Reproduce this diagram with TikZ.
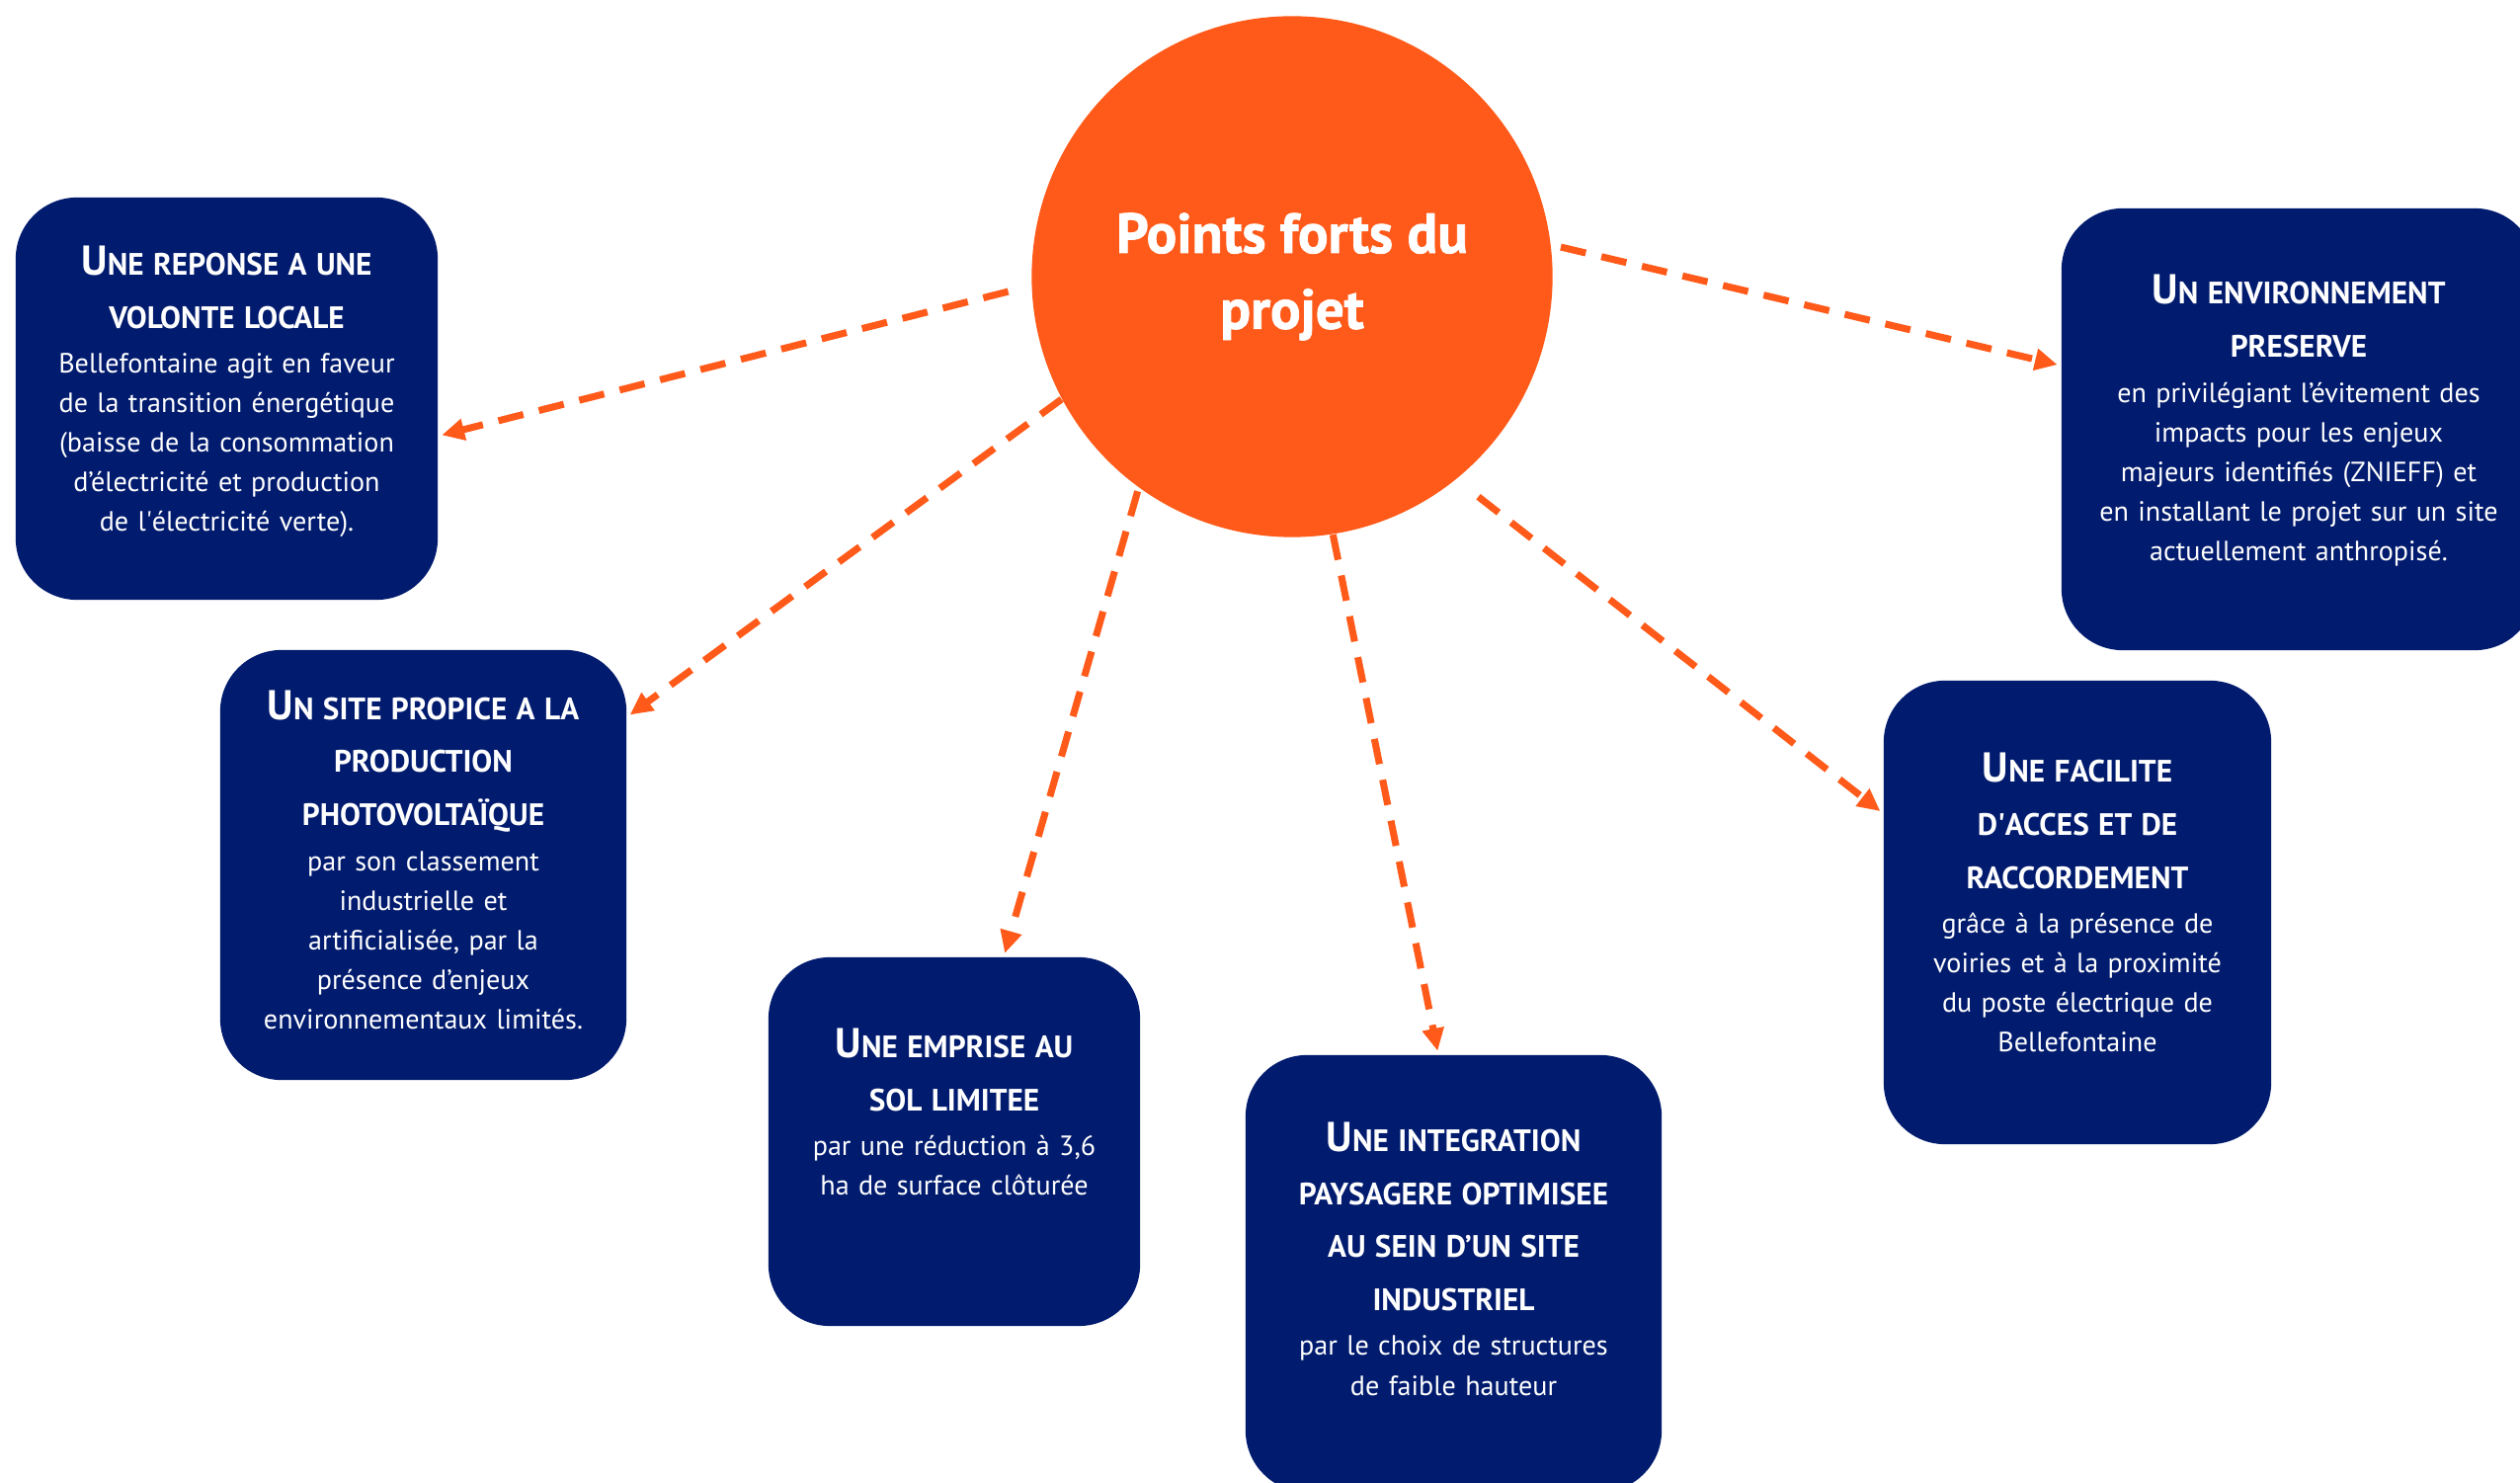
\documentclass[tikz,border=0pt]{standalone}
\usepackage{fontspec}
\setmainfont{PT Sans}
\newfontfamily\titlefont{PT Sans}[BoldFeatures={FakeBold=1.4}]
\usetikzlibrary{arrows.meta}

\definecolor{navy}{HTML}{011B6E}
\definecolor{flame}{HTML}{FF5A19}

% large initial of the small-caps headings
\newcommand{\lead}[1]{{\fontsize{12}{12}\selectfont #1}}
\newcommand{\cardtitle}[1]{{\bfseries\fontsize{8.9}{15.3}\selectfont #1\par}\vspace{1.5pt}}

\begin{document}
\begin{tikzpicture}[
    x=0.01cm, y=-0.01cm,
    font=\fontsize{8}{11.4}\selectfont,
    hub/.style={circle,fill=flame,text=white,minimum size=5.27cm,inner sep=0pt,
        align=center,font=\titlefont\fontsize{16.2}{21.8}\selectfont\bfseries},
    card/.style={fill=navy,text=white,rounded corners=0.62cm,align=center,
        inner sep=0pt},
    link/.style={draw=flame,line width=2pt,dash pattern=on 7.4pt off 4.6pt,
        -{Triangle[length=6.5pt,width=6pt]},shorten >=1pt}
]

\clip (0,0) rectangle (2551,1501);

\node[hub] (hub) at (1308,280) {Points forts du\\projet};

% Left side
\node[card,text width=4.27cm,minimum height=4.07cm] (volonte) at (229.5,403.5)
{
\cardtitle{\lead{U}NE REPONSE A UNE\\VOLONTE LOCALE}
Bellefontaine agit en faveur\\
de la transition énergétique\\
(baisse de la consommation\\
d’électricité et production\\
de l\textquotesingle électricité verte).\par
\vspace*{4pt}
};

\node[card,text width=4.11cm,minimum height=4.35cm] (propice) at (428.5,875.5)
{
\cardtitle{\lead{U}N SITE PROPICE A LA\\PRODUCTION\\PHOTOVOLTAÏQUE}
par son classement\\
industrielle et\\
artificialisée, par la\\
présence d’enjeux\\
environnementaux limités.\par
\vspace*{3pt}
};

% Bottom
\node[card,text width=3.76cm,minimum height=3.73cm] (emprise) at (966,1155.5)
{
\cardtitle{\lead{U}NE EMPRISE AU\\SOL LIMITEE}
par une réduction à 3,6\\
ha de surface clôturée\par
\vspace*{17pt}
};

\node[card,text width=4.21cm,minimum height=4.42cm] (paysage) at (1471.5,1289)
{
\cardtitle{\lead{U}NE INTEGRATION\\PAYSAGERE OPTIMISEE\\AU SEIN D’UN SITE\\INDUSTRIEL}
par le choix de structures\\
de faible hauteur\par
\vspace*{8.5pt}
};

% Right side
\node[card,text width=3.92cm,minimum height=4.69cm] (acces) at (2103,923.5)
{
\cardtitle{\lead{U}NE FACILITE\\D\textquotesingle ACCES ET DE\\RACCORDEMENT}
grâce à la présence de\\
voiries et à la proximité\\
du poste électrique de\\
Bellefontaine\par
\vspace*{5.7pt}
};

\node[card,text width=4.80cm,minimum height=4.47cm] (environ) at (2327,434.5)
{
\cardtitle{\lead{U}N ENVIRONNEMENT\\PRESERVE}
en privilégiant l’évitement des\\
impacts pour les enjeux\\
majeurs identifiés (ZNIEFF) et\\
en installant le projet sur un site\\
actuellement anthropisé.\par
\vspace*{5pt}
};

% Dashed links from the centre
\draw[link,shorten <=6.8pt] (hub.182) -- (volonte.-10);
\draw[link] (hub.208) -- (propice.36);
\draw[link,shorten <=1pt] (hub.234) -- (emprise.75);
\draw[link] (hub.279) -- (paysage.94);
\draw[link,shorten <=8pt] (hub.309) -- (acces.153);
\draw[link,shorten <=2.8pt] (hub.7.5) -- (environ.165);

\end{tikzpicture}
\end{document}
